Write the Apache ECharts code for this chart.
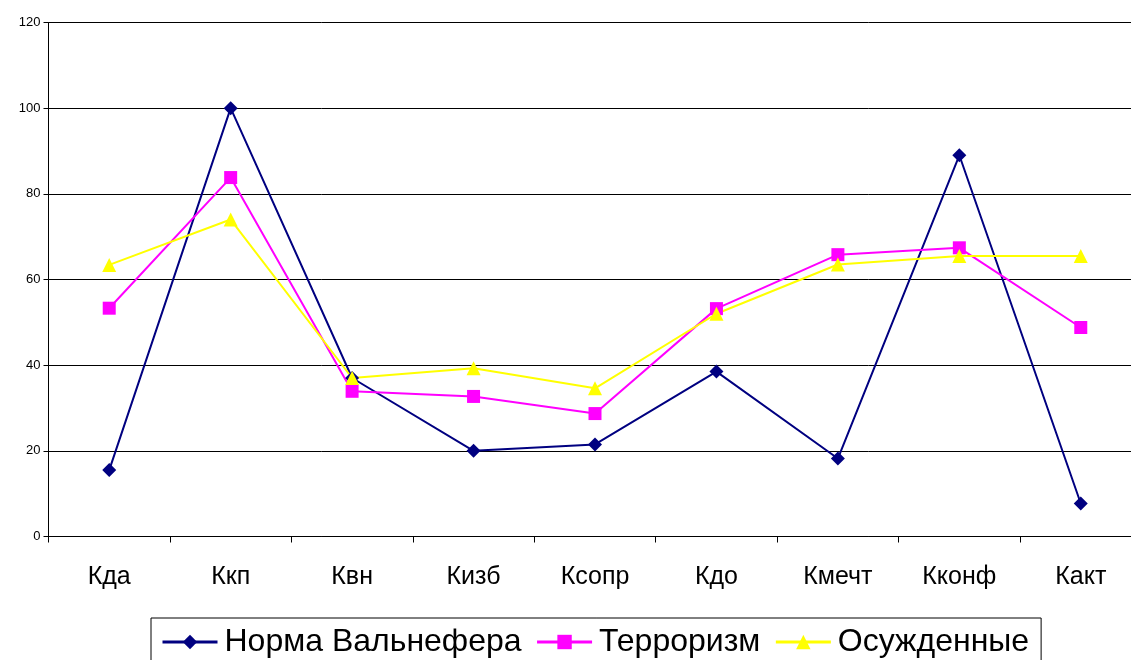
<!DOCTYPE html>
<html><head><meta charset="utf-8">
<script src="https://cdn.jsdelivr.net/npm/echarts@6/dist/echarts.min.js"></script>
<style>html,body{margin:0;padding:0;background:#fff;overflow:hidden}#c{width:1142px;height:660px}</style>
</head><body><div id="c"></div>
<script>
const categories = ['Кда','Ккп','Квн','Кизб','Ксопр','Кдо','Кмечт','Кконф','Какт'];
const normaValues = [15.5, 100, 37, 20, 21.5, 38.5, 18.2, 89, 7.7];
const terrorValues = [53.3, 83.8, 33.9, 32.7, 28.7, 53.2, 65.8, 67.4, 48.8];
const convictValues = [63.4, 74, 37, 39.3, 34.6, 52, 63.5, 65.5, 65.5];
const seriesNames = ['Норма Вальнефера','Терроризм','Осужденные'];

const chart = echarts.init(document.getElementById('c'), null, {renderer:'canvas'});
const font = '"Liberation Sans", Arial, sans-serif';
chart.setOption({
  animation:false,
  backgroundColor:'#fff',
  grid:{left:48.5, right:0.5, top:22.5, bottom:123.5, containLabel:false},
  legend:{
    top:618, left:151,
    data:seriesNames,
    borderColor:'#000', borderWidth:1, backgroundColor:'#fff',
    padding:[8,12,10,10],
    itemWidth:55, itemHeight:18, itemGap:14,
    lineStyle:{width:3},
    textStyle:{fontFamily:font, fontSize:32, color:'#000', padding:[0,0,0,2]}
  },
  xAxis:{
    type:'category', data:categories, boundaryGap:true,
    axisLine:{lineStyle:{color:'#000', width:1}},
    axisTick:{show:true, length:6, lineStyle:{color:'#000'}},
    axisLabel:{fontFamily:font, fontSize:25, color:'#000', margin:28},
    splitLine:{show:false}
  },
  yAxis:{
    type:'value', min:0, max:120, interval:20,
    axisLine:{show:true, lineStyle:{color:'#000'}},
    axisTick:{show:true, length:5, lineStyle:{color:'#000'}},
    axisLabel:{fontFamily:font, fontSize:13, color:'#000', margin:8},
    splitLine:{show:true, lineStyle:{color:'#000', width:1}}
  },
  series:[
    {name:seriesNames[0], type:'line', data:normaValues, symbol:'diamond', symbolSize:14,
     lineStyle:{color:'#000080', width:2}, itemStyle:{color:'#000080'}},
    {name:seriesNames[1], type:'line', data:terrorValues, symbol:'rect', symbolSize:13,
     lineStyle:{color:'#ff00ff', width:2}, itemStyle:{color:'#ff00ff'}},
    {name:seriesNames[2], type:'line', data:convictValues, symbol:'triangle', symbolSize:14,
     lineStyle:{color:'#ffff00', width:2}, itemStyle:{color:'#ffff00'}}
  ]
});
</script></body></html>
